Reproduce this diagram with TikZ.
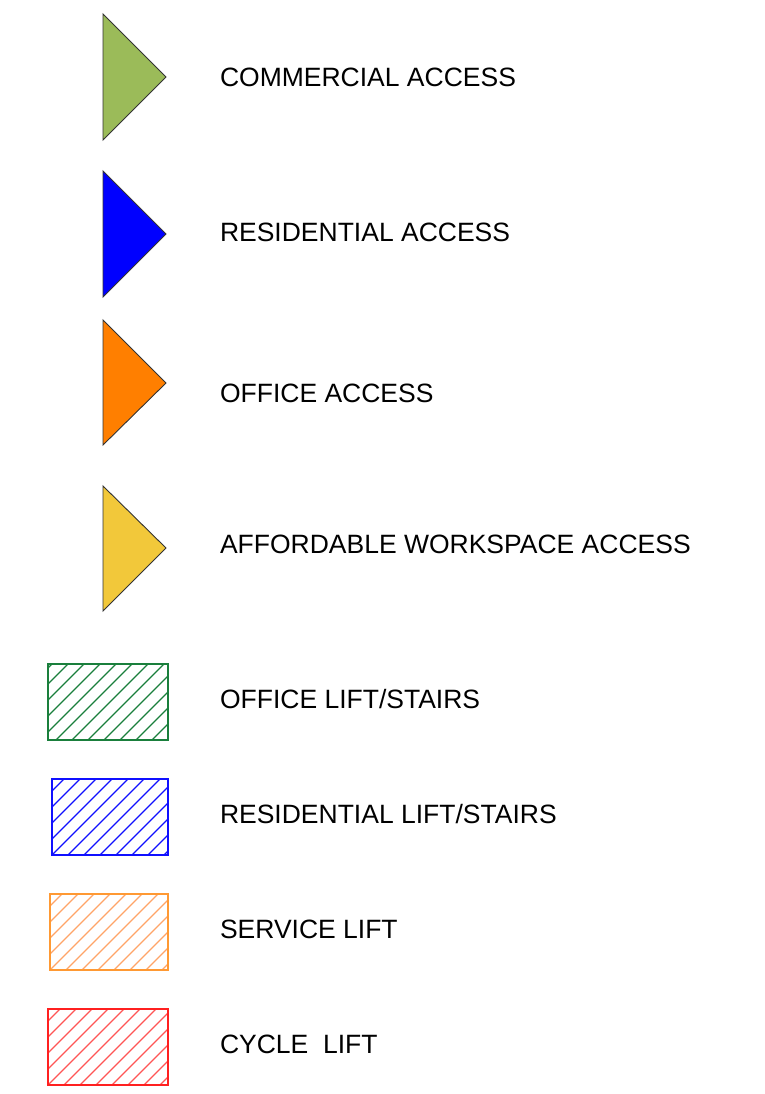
\documentclass[tikz,border=0pt]{standalone}
\usepackage{fontspec}
\newfontfamily\lgfont{Liberation Sans}
\definecolor{comgreen}{HTML}{9BBB59}
\definecolor{resblue}{HTML}{0000FF}
\definecolor{offorange}{HTML}{FF7F00}
\definecolor{affyellow}{HTML}{F2C83A}
\definecolor{triedge}{HTML}{333333}
\definecolor{hgreen}{HTML}{1A7F3C}
\definecolor{hblue}{HTML}{1010FF}
\definecolor{horange}{HTML}{FF9933}
\definecolor{horangel}{HTML}{FFA468}
\definecolor{hred}{HTML}{FF2020}
\definecolor{hredl}{HTML}{FF5555}
\tikzset{
  lbl/.style={anchor=base west, inner sep=0pt, outer sep=0pt, font=\lgfont\fontsize{26.5}{30}\selectfont},
  tri/.style={draw=triedge, line width=0.9pt, line join=miter},
  hatchbox/.style={line width=1.1pt},
  hatchline/.style={line width=1.2pt}
}
\begin{document}
\begin{tikzpicture}[x=1pt,y=-1pt]
\useasboundingbox (0,0) rectangle (764,1094);
% triangles
\path[tri, fill=comgreen] (103,14) -- (103,140) -- (166,77) -- cycle;
\path[tri, fill=resblue] (103,171) -- (103,297) -- (166,234) -- cycle;
\path[tri, fill=offorange] (103,320) -- (103,445) -- (166,383) -- cycle;
\path[tri, fill=affyellow] (103,486) -- (103,611) -- (166,548) -- cycle;
% hatched boxes
\begin{scope}
\clip (48,664) rectangle (168,740);
\foreach \i in {-6,...,8} \draw[hatchline, hgreen] (56+\i*16,740) -- ++(90,-90);
\end{scope}
\draw[hatchbox, hgreen] (48,664) rectangle (168,740);
\begin{scope}
\clip (52,779) rectangle (168,855);
\foreach \i in {-6,...,8} \draw[hatchline, hblue] (52+\i*16,855) -- ++(90,-90);
\end{scope}
\draw[hatchbox, hblue] (52,779) rectangle (168,855);
\begin{scope}
\clip (50,894) rectangle (168,970);
\foreach \i in {-6,...,8} \draw[hatchline, horangel] (50+\i*16,970) -- ++(90,-90);
\end{scope}
\draw[hatchbox, horange] (50,894) rectangle (168,970);
\begin{scope}
\clip (48,1009) rectangle (168,1085);
\foreach \i in {-6,...,8} \draw[hatchline, hredl] (48+\i*16,1085) -- ++(90,-90);
\end{scope}
\draw[hatchbox, hred] (48,1009) rectangle (168,1085);
% labels
\node[lbl] (l1) at (220,86.5) {COMMERCIAL ACCESS};
\node[lbl] (l2) at (220,241) {RESIDENTIAL ACCESS};
\node[lbl] (l3) at (220,402.5) {OFFICE ACCESS};
\node[lbl] (l4) at (220,553) {AFFORDABLE WORKSPACE ACCESS};
\node[lbl] (l5) at (220,708) {OFFICE LIFT/STAIRS};
\node[lbl] (l6) at (220,823) {RESIDENTIAL LIFT/STAIRS};
\node[lbl] (l7) at (220,938.5) {SERVICE LIFT};
\node[lbl] (l8) at (220,1053.5) {CYCLE\ \ LIFT};
\end{tikzpicture}
\end{document}
